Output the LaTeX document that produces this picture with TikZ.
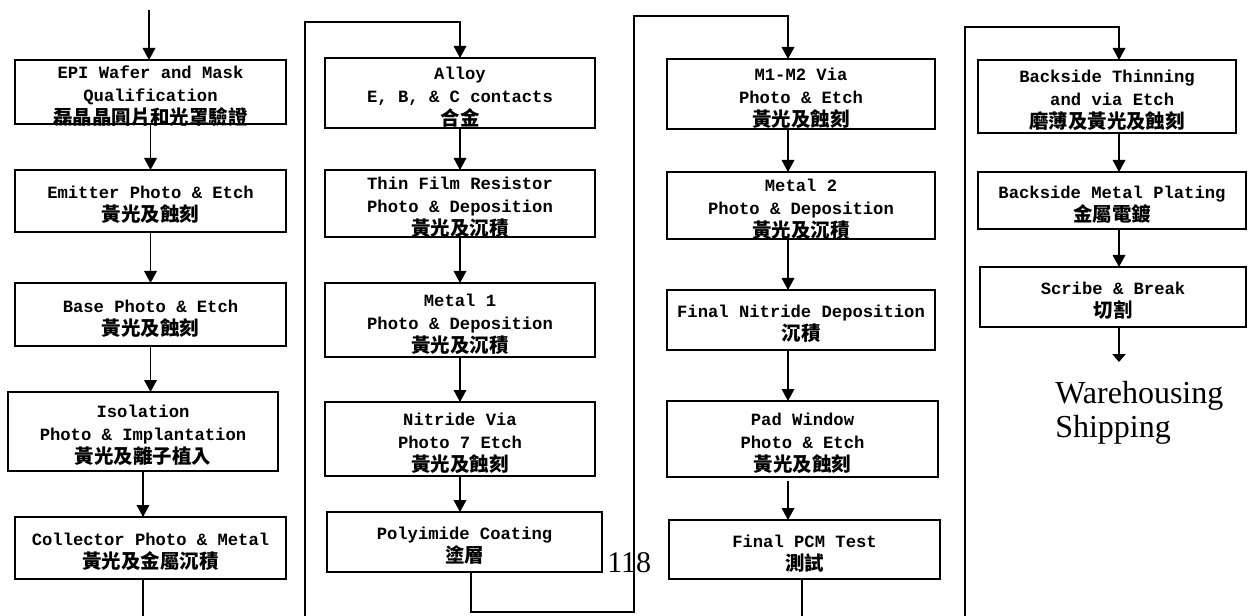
\documentclass[tikz,border=0pt]{standalone}
\usepackage{fontspec}
\setmonofont{Liberation Mono}
\newfontfamily\cjkfont{Noto Sans CJK TC}
\newfontfamily\captionserif{Liberation Serif}
\usetikzlibrary{arrows.meta,fit,calc}

% Chinese line inside a process box
\newcommand{\zhline}[1]{{\cjkfont\bfseries\fontsize{14.6pt}{17.25pt}\selectfont #1}}

% a process box (empty frame) with its centred caption
\newcommand{\procstep}[3]{%
  \node[stepbox, fit={#2}] (#1) {};
  \node[steptext] (#1-t) at (#1) {#3};
}

\tikzset{
  stepbox/.style={draw, line width=1pt, inner sep=0pt, outer sep=0pt},
  steptext/.style={inner sep=0pt, align=center, yshift=-3pt,
    font=\ttfamily\bfseries\fontsize{12.9pt}{17.25pt}\selectfont},
  flow/.style={line width=1pt, -{Triangle[width=9.5pt,length=9pt]}},
  flowshort/.style={line width=1pt, -{Triangle[width=10pt,length=6pt]}},
  wire/.style={line width=1pt},
}

\begin{document}
\begin{tikzpicture}[x=0.75pt,y=-0.75pt]
\useasboundingbox (0,0) rectangle (1248,616);
\fill[white] (0,0) rectangle (1248,616);

% ---------- column 1: front-end steps ----------
\procstep{b1}{(15,60)(286,124)}{EPI Wafer and Mask\\Qualification\\\zhline{磊晶晶圓片和光罩驗證}}
\procstep{b2}{(15,170)(286,232)}{Emitter Photo \& Etch\\\zhline{黃光及蝕刻}}
\procstep{b3}{(15,283)(286,346)}{Base Photo \& Etch\\\zhline{黃光及蝕刻}}
\procstep{b4}{(8,392)(278,471)}{Isolation\\Photo \& Implantation\\\zhline{黃光及離子植入}}
\procstep{b5}{(15,517)(286,579)}{Collector Photo \& Metal\\\zhline{黃光及金屬沉積}}

% ---------- column 2: alloy to polyimide ----------
\procstep{bA}{(325,58)(595,128)}{Alloy\\E, B, \& C contacts\\\zhline{合金}}
\procstep{bB}{(325,170)(595,237)}{Thin Film Resistor\\Photo \& Deposition\\\zhline{黃光及沉積}}
\procstep{bC}{(325,283)(595,357)}{Metal 1\\Photo \& Deposition\\\zhline{黃光及沉積}}
\procstep{bD}{(325,402)(595,476)}{Nitride Via\\Photo 7 Etch\\\zhline{黃光及蝕刻}}
\procstep{bE}{(327,512)(602,572)}{Polyimide Coating\\\zhline{塗層}}

% ---------- column 3: second metal to PCM test ----------
\procstep{bF}{(667,59)(935,129)}{M1-M2 Via\\Photo \& Etch\\\zhline{黃光及蝕刻}}
\procstep{bG}{(667,172)(935,239)}{Metal 2\\Photo \& Deposition\\\zhline{黃光及沉積}}
\procstep{bH}{(667,290)(935,350)}{Final Nitride Deposition\\\zhline{沉積}}
\procstep{bI}{(667,401)(938,477)}{Pad Window\\Photo \& Etch\\\zhline{黃光及蝕刻}}
\procstep{bJ}{(669,520)(940,579)}{Final PCM Test\\\zhline{測試}}

% ---------- column 4: backside and dicing ----------
\procstep{bK}{(978,60)(1236,133)}{Backside Thinning\\\ and via Etch\\\zhline{磨薄及黃光及蝕刻}}
\procstep{bL}{(978,172)(1246,229)}{Backside Metal Plating\\\zhline{金屬電鍍}}
\procstep{bM}{(980,267)(1246,327)}{Scribe \& Break\\\zhline{切割}}

\node[anchor=north west, inner xsep=0pt, inner ysep=14.25pt, align=left,
      font=\captionserif\fontsize{24pt}{25.5pt}\selectfont] (wh) at (1055,362) {Warehousing\\Shipping};

\node[anchor=base west, inner sep=0pt, font=\captionserif\fontsize{22.5pt}{25pt}\selectfont] (pg) at (607,572) {118};

% ---------- routing coordinates ----------
\coordinate (in1) at (149,10);
\coordinate (out1) at (143,620);
\coordinate (c2bot) at (305,620);
\coordinate (c2top) at (305,22);
\coordinate (c3low) at (634,612);
\coordinate (c3top) at (634,16);
\coordinate (spine3) at (788,0);
\coordinate (out3) at (802,620);
\coordinate (c4bot) at (965,620);
\coordinate (c4top) at (965,27);
\coordinate (spine4) at (1119,0);

% ---------- connectors, column 1 ----------
\draw[flow] (in1) -- (in1 |- b1.north);
\draw[flow] (b1.south) -- (b2.north);
\draw[flow] (b2.south) -- (b3.north);
\draw[flow] (b3.south) -- (b3.south |- b4.north);
\draw[flow] (b4.south) -- (b4.south |- b5.north);
\draw[wire] (b5.south -| out1) -- (out1);

% ---------- connectors, column 2 ----------
\draw[flow] (c2bot) -- (c2top) -| (bA.north);
\draw[flow] (bA.south) -- (bB.north);
\draw[flow] (bB.south) -- (bC.north);
\draw[flow] (bC.south) -- (bD.north);
\draw[flow] (bD.south) -- (bD.south |- bE.north);
\draw[flow] ([xshift=4.9pt]bE.south) |- (c3low) -- (c3top) -| (bF.north -| spine3);

% ---------- connectors, column 3 ----------
\draw[flow] (bF.south -| spine3) -- (bG.north -| spine3);
\draw[flow] (bG.south -| spine3) -- (bH.north -| spine3);
\draw[flow] (bH.south -| spine3) -- (bI.north -| spine3);
\draw[flow] ([yshift=-3pt]bI.south -| spine3) -- (bJ.north -| spine3);
\draw[wire] (bJ.south -| out3) -- (out3);

% ---------- connectors, column 4 ----------
\draw[flow] (c4bot) -- (c4top) -| (bK.north -| spine4);
\draw[flow] (bK.south -| spine4) -- (bL.north -| spine4);
\draw[flow] (bL.south -| spine4) -- (bM.north -| spine4);
\draw[flowshort] (bM.south -| spine4) -- (wh.north -| spine4);
\end{tikzpicture}
\end{document}
